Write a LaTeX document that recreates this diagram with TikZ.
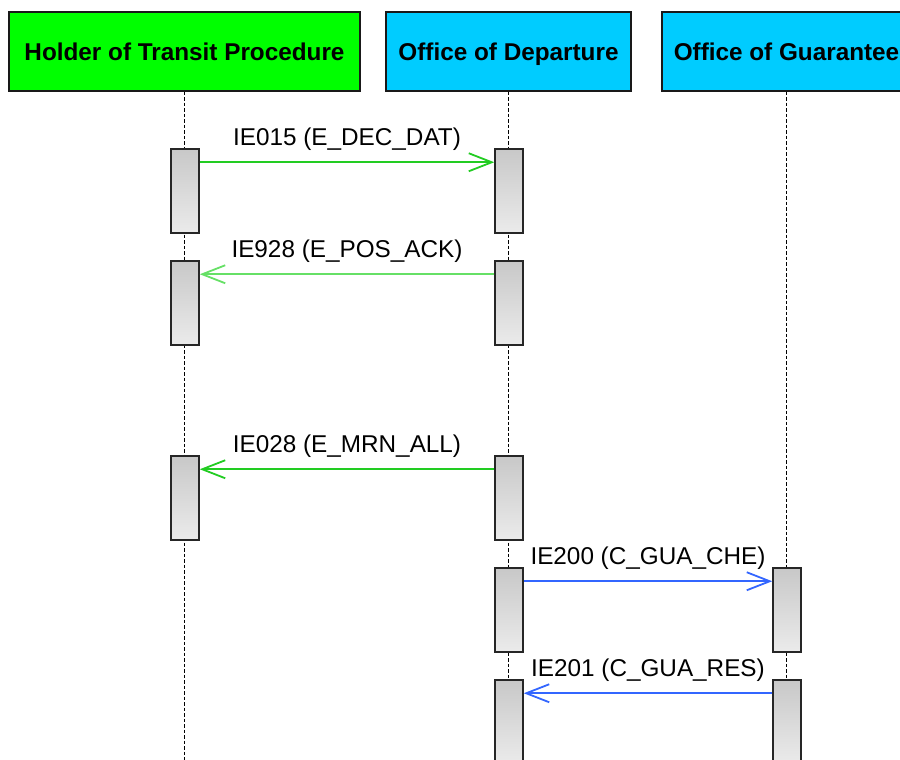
\documentclass[tikz,border=0pt]{standalone}
\usepackage{fontspec}
\setmainfont{Liberation Sans}
\usetikzlibrary{arrows.meta, positioning, calc}
\definecolor{holder}{HTML}{00FF00}
\definecolor{office}{HTML}{00CCFF}
\definecolor{msggreen}{HTML}{22CC22}
\definecolor{msglight}{HTML}{66E066}
\definecolor{msgblue}{HTML}{3366FF}
\definecolor{acttop}{HTML}{C8C8C8}
\definecolor{actbot}{HTML}{EBEBEB}

\begin{document}
\begin{tikzpicture}[x=1pt, y=-1pt,
  every node/.style={font=\fontsize{24.3}{29}\selectfont},
  actor/.style={draw=black!90, line width=1.4pt, minimum height=79pt, inner sep=0pt, text height=20pt, text depth=3pt, font=\fontsize{24.3}{29}\selectfont\bfseries},
  lifeline/.style={draw=black, line width=1.1pt, dash pattern=on 3.5pt off 2pt},
  act/.style={draw=black!85, line width=1.5pt, top color=acttop, bottom color=actbot, minimum width=28pt, minimum height=84pt, inner sep=0pt},
  msg/.style={line width=1.8pt, -{Straight Barb[length=23pt,width=18pt]}},
  lbl/.style={anchor=base, yshift=16.5pt, text=black}]
  \useasboundingbox (0,0) rectangle (900,760);
  \clip (0,0) rectangle (900,760);

  % Participants
  \node[actor, fill=holder, minimum width=351pt] (holder) at (184.5,51.5) {Holder of Transit Procedure};
  \node[actor, fill=office, minimum width=245pt] (departure) at (508.5,51.5) {Office of Departure};
  \node[actor, fill=office, minimum width=249pt] (guarantee) at (786.5,51.5) {Office of Guarantee};

  % Lifelines
  \foreach \p in {holder, departure, guarantee}
    \draw[lifeline] (\p.south) -- (\p.south |- 0,770);

  % Activations
  \foreach \name/\x/\y in {h1/185/191, h2/185/303, h3/185/498,
    d1/509/191, d2/509/303, d3/509/498, d4/509/610, d5/509/722,
    g4/787/610, g5/787/722}
    \node[act] (\name) at (\x,\y) {};

  % Messages
  \draw[msg, msggreen] ($(h1.north east)+(0,14)$) -- node[lbl] {IE015 (E\_DEC\_DAT)} ($(d1.north west)+(0,14)$);
  \draw[msg, msglight] ($(d2.north west)+(0,14)$) -- node[lbl] {IE928 (E\_POS\_ACK)} ($(h2.north east)+(0,14)$);
  \draw[msg, msggreen] ($(d3.north west)+(0,14)$) -- node[lbl] {IE028 (E\_MRN\_ALL)} ($(h3.north east)+(0,14)$);
  \draw[msg, msgblue] ($(d4.north east)+(0,14)$) -- node[lbl] {IE200 (C\_GUA\_CHE)} ($(g4.north west)+(0,14)$);
  \draw[msg, msgblue] ($(g5.north west)+(0,14)$) -- node[lbl] {IE201 (C\_GUA\_RES)} ($(d5.north east)+(0,14)$);
\end{tikzpicture}
\end{document}
